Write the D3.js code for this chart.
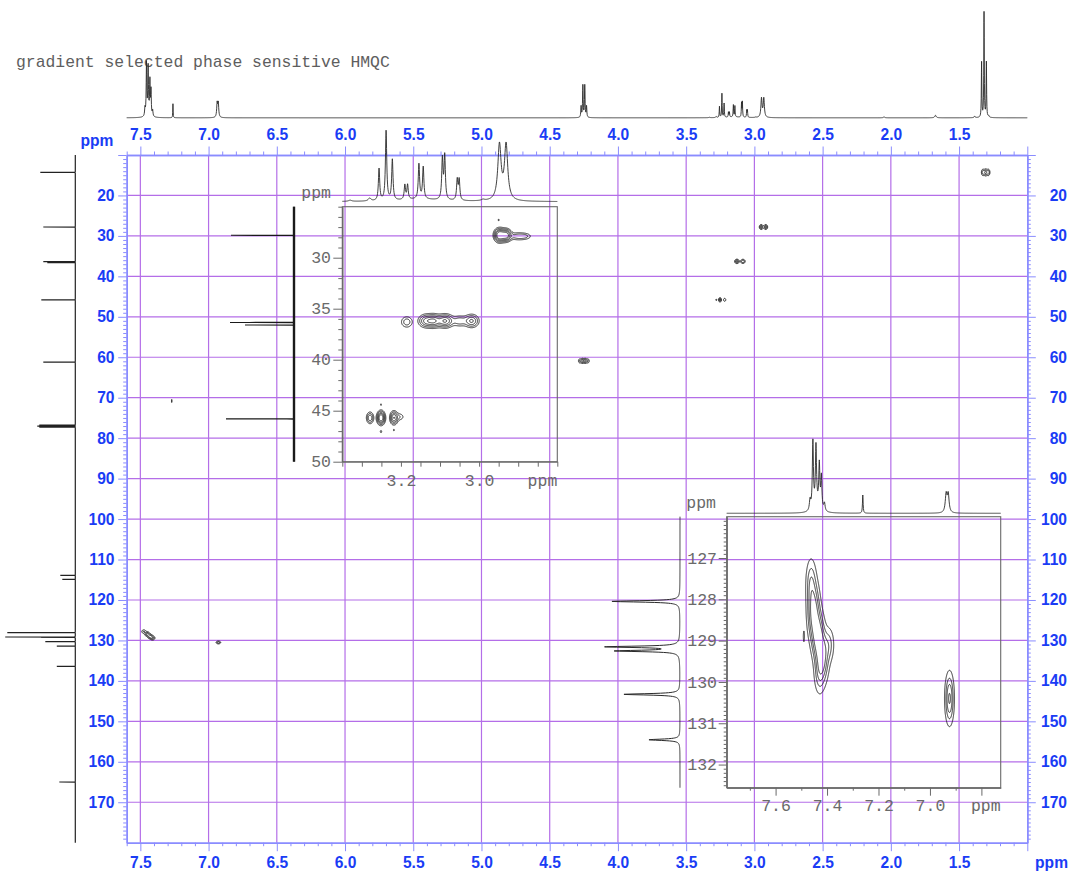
<!DOCTYPE html>
<html>
<head>
<meta charset="utf-8">
<script src="https://cdn.jsdelivr.net/npm/d3@7/dist/d3.min.js"></script>
<style>
  html, body { margin: 0; padding: 0; background: #ffffff; }
  svg { display: block; }
</style>
</head>
<body>
<script>
// ---------------------------------------------------------------
// HMQC spectrum: 1H (F2) against 13C (F1), with two expanded regions
// ---------------------------------------------------------------

const titleText = "gradient selected phase sensitive HMQC";

// main axis ticks (ppm)
const protonMajor = [7.5, 7.0, 6.5, 6.0, 5.5, 5.0, 4.5, 4.0, 3.5, 3.0, 2.5, 2.0, 1.5, 1.0];
const carbonMajor = [10, 20, 30, 40, 50, 60, 70, 80, 90, 100, 110, 120, 130, 140, 150, 160, 170];

// 1H spectrum: line positions (ppm), intensities, Lorentzian half widths (ppm)
const hShift = [7.466, 7.455, 7.443, 7.430, 7.422, 7.410, 7.440,
                7.261, 6.937, 6.929,
                4.270, 4.257, 4.243, 4.230,
                3.330, 3.280, 3.256, 3.238, 3.222, 3.190, 3.183, 3.154, 3.143, 3.150,
                3.094, 3.088, 3.056, 3.051, 2.990, 2.948, 2.931,
                2.050, 1.673, 1.386, 1.335, 1.317, 1.300, 1.283];
const hInt   = [8, 52, 45, 33, 25, 6, 6,
                14, 14, 14,
                11, 32, 32, 11,
                0.4, 1.0, 11, 24, 14, 5, 5, 12, 11, 0.8,
                14, 15, 7, 7, 0.4, 19, 19,
                1, 2.5, 1.5, 55, 105, 55, 1.5];
const hWidth = [0.003, 0.0025, 0.0025, 0.0025, 0.0025, 0.003, 0.012,
                0.0015, 0.004, 0.004,
                0.0025, 0.0025, 0.0025, 0.0025,
                0.005, 0.004, 0.002, 0.002, 0.002, 0.002, 0.002, 0.002, 0.002, 0.06,
                0.002, 0.002, 0.002, 0.002, 0.005, 0.005, 0.005,
                0.005, 0.006, 0.004, 0.002, 0.002, 0.002, 0.004];

// 13C spectrum: line positions (ppm) and intensities for the full
// projection and for the projections of the two expansions
const cShift     = [14.3, 27.8, 36.35, 36.6, 45.8, 61.2, 76.75, 77.0, 77.25,
                    113.9, 114.9, 128.05, 129.15, 129.25, 130.3, 131.4, 136.4, 165.0];
const cIntFull   = [35, 32, 32, 28, 34, 32, 36, 38, 36,
                    15, 13, 68, 70, 34, 30, 18.5, 18.5, 16];
const cIntAliph  = [0, 63, 64, 49, 68, 0, 0, 0, 0,
                    0, 0, 0, 0, 0, 0, 0, 0, 0];
const cIntArom   = [0, 0, 0, 0, 0, 0, 0, 0, 0,
                    0, 0, 68, 73, 63, 56, 31, 0, 0];

// cross peaks of the full 2D map: 1H ppm, 13C ppm, widths (ppm), amplitude
const mpH   = [1.325, 1.305, 1.285,
               2.950, 2.917,
               3.128, 3.084,
               3.279, 3.252, 3.218,
               4.280, 4.260, 4.240, 4.220,
               7.270,
               7.475, 7.450, 7.430, 7.410,
               6.928];
const mpC   = [14.3, 14.3, 14.3,
               27.8, 27.8,
               36.3, 36.3,
               45.8, 45.8, 45.8,
               60.9, 60.9, 60.9, 60.9,
               70.8,
               127.8, 128.4, 129.0, 129.4,
               130.5];
const mpSH  = [0.008, 0.008, 0.008,
               0.009, 0.009,
               0.011, 0.011,
               0.004, 0.007, 0.007,
               0.008, 0.008, 0.008, 0.008,
               0.0015,
               0.012, 0.012, 0.012, 0.012,
               0.012];
const mpSC  = [0.55, 0.55, 0.55,
               0.40, 0.40,
               0.35, 0.35,
               0.25, 0.35, 0.30,
               0.40, 0.40, 0.40, 0.40,
               0.35,
               0.35, 0.35, 0.35, 0.35,
               0.25];
const mpAmp = [0.8, 1.0, 0.8,
               1.0, 1.0,
               1.0, 0.9,
               0.4, 1.0, 0.6,
               0.6, 1.0, 1.0, 0.6,
               0.6,
               0.6, 1.0, 1.0, 0.8,
               0.8];

// cross peaks of the two expansions (higher digital resolution)
const xpH   = [2.948, 2.931, 2.900, 2.880, 2.950,
               3.185, 3.135, 3.115, 3.087, 3.050, 3.019,
               3.279, 3.251, 3.218, 3.203, 3.251, 3.251, 3.218,
               7.462, 7.452, 7.435, 7.418, 7.392, 7.430, 7.490,
               6.924];
const xpC   = [27.8, 27.8, 27.9, 27.9, 26.3,
               36.3, 36.2, 36.2, 36.2, 36.2, 36.2,
               45.7, 45.7, 45.7, 45.6, 44.4, 47.05, 46.9,
               127.6, 128.3, 128.9, 129.4, 129.1, 129.8, 128.9,
               130.4];
const xpSH  = [0.008, 0.008, 0.015, 0.010, 0.002,
               0.010, 0.012, 0.010, 0.012, 0.012, 0.011,
               0.0056, 0.006, 0.006, 0.008, 0.0012, 0.0025, 0.002,
               0.012, 0.014, 0.014, 0.014, 0.012, 0.012, 0.002,
               0.010];
const xpSC  = [0.38, 0.35, 0.25, 0.20, 0.15,
               0.37, 0.38, 0.38, 0.38, 0.35, 0.38,
               0.34, 0.38, 0.38, 0.25, 0.12, 0.15, 0.12,
               0.35, 0.40, 0.35, 0.35, 0.25, 0.30, 0.12,
               0.35];
const xpAmp = [1.0, 0.85, 0.3, 0.15, 0.14,
               0.30, 0.60, 0.60, 0.75, 0.30, 0.55,
               0.50, 1.0, 0.70, 0.20, 0.15, 0.15, 0.14,
               0.45, 0.95, 1.0, 0.9, 0.35, 0.35, 0.2,
               0.8];

// contour levels (fraction of the strongest cross peak)
const levelsFull  = [0.3, 0.6, 0.9];
const levelsAliph = [0.12, 0.22, 0.36, 0.52, 0.72];
const levelsArom  = [0.12, 0.30, 0.50, 0.75];

// axis labels of the expansions
const aliphProtonLabels = [3.2, 3.0];
const aliphCarbonLabels = [30, 35, 40, 45, 50];
const aromProtonLabels  = [7.6, 7.4, 7.2, 7.0];
const aromCarbonLabels  = [127, 128, 129, 130, 131, 132];

// ---------------------------------------------------------------
const BLUE_TEXT = "#1a3cf5";
const AXIS_COL  = "#8a8cff";
const GRID_COL  = "#b46ee8";
const INK       = "#1b1b1b";
const GREY_TEXT = "#5e5e5e";
const INSET_COL = "#6a6a6a";
const SANS = "'Liberation Sans', Arial, Helvetica, sans-serif";
const MONO = "'Liberation Mono', 'Courier New', monospace";

const svg = d3.select("body").append("svg")
  .attr("width", 1075).attr("height", 875)
  .attr("viewBox", "0 0 1075 875");

const F = { x0: 126.7, x1: 1027.3, y0: 155, y1: 842.7 };
const xMain = d3.scaleLinear().domain([7.6, 1.0]).range([F.x0, F.x1]);
const yMain = d3.scaleLinear().domain([10, 180]).range([F.y0, F.y1]);

// expansion frames
const A = { x0: 342.3, x1: 557.3, y0: 206.7, y1: 461.7 };
const xA = d3.scaleLinear().domain([3.35, 2.80]).range([A.x0, A.x1]);
const yA = d3.scaleLinear().domain([25, 50]).range([A.y0, A.y1]);
const B = { x0: 726.7, x1: 1000.7, y0: 516.7, y1: 787.7 };
const xB = d3.scaleLinear().domain([7.79, 6.725]).range([B.x0, B.x1]);
const yB = d3.scaleLinear().domain([126, 132.56]).range([B.y0, B.y1]);

// ---------- helpers ----------
function lorentzSum(shifts, ints, width, ppm) {
  let s = 0;
  for (let i = 0; i < shifts.length; i++) {
    if (!ints[i]) continue;
    const w = Array.isArray(width) ? width[i] : width;
    const d = (ppm - shifts[i]) / w;
    s += ints[i] / (1 + d * d);
  }
  return s;
}

function samplePositions(scale, shifts) {
  const [a, b] = scale.range().slice().sort((p, q) => p - q);
  const pts = d3.range(a, b, 0.25);
  pts.push(b);
  shifts.forEach(s => { const p = scale(s); if (p > a && p < b) pts.push(p); });
  return pts.sort((p, q) => p - q);
}

function protonTrace(xs, baseY, gain) {
  const pts = samplePositions(xs, hShift);
  return d3.line()(pts.map(px =>
    [px, baseY - gain * lorentzSum(hShift, hInt, hWidth, xs.invert(px))]));
}

function carbonTrace(ys, baseX, ints, width) {
  const pts = samplePositions(ys, cShift);
  return d3.line()(pts.map(py =>
    [baseX - lorentzSum(cShift, ints, width, ys.invert(py)), py]));
}

// contour plot of the cross peaks that fall within a panel
function drawCrossPeaks(g, xs, ys, pk, levels, res, strokeW) {
  const [xa, xb] = xs.range(), [ya, yb] = ys.range();
  let boxes = [];
  pk.h.forEach((h, i) => {
    const px = [xs(h + 5 * pk.sh[i]), xs(h - 5 * pk.sh[i])];
    const py = [ys(pk.c[i] - 5 * pk.sc[i]), ys(pk.c[i] + 5 * pk.sc[i])];
    const b = { x0: Math.min(...px), x1: Math.max(...px),
                y0: Math.min(...py), y1: Math.max(...py), ids: [i] };
    if (b.x1 < xa || b.x0 > xb || b.y1 < ya || b.y0 > yb) return;
    boxes.push(b);
  });
  let changed = true;
  while (changed) {
    changed = false;
    outer:
    for (let i = 0; i < boxes.length; i++) {
      for (let j = i + 1; j < boxes.length; j++) {
        const p = boxes[i], q = boxes[j];
        if (p.x0 <= q.x1 && q.x0 <= p.x1 && p.y0 <= q.y1 && q.y0 <= p.y1) {
          boxes[i] = { x0: Math.min(p.x0, q.x0), x1: Math.max(p.x1, q.x1),
                       y0: Math.min(p.y0, q.y0), y1: Math.max(p.y1, q.y1),
                       ids: p.ids.concat(q.ids) };
          boxes.splice(j, 1);
          changed = true;
          break outer;
        }
      }
    }
  }
  boxes.forEach(b => {
    const x0 = b.x0 - 2, y0 = b.y0 - 2;
    const nx = Math.ceil((b.x1 + 2 - x0) / res), ny = Math.ceil((b.y1 + 2 - y0) / res);
    const v = new Float64Array(nx * ny);
    for (let j = 0; j < ny; j++) {
      const c = ys.invert(y0 + (j + 0.5) * res);
      for (let i = 0; i < nx; i++) {
        const h = xs.invert(x0 + (i + 0.5) * res);
        let s = 0;
        for (const k of b.ids) {
          const dh = (h - pk.h[k]) / pk.sh[k], dc = (c - pk.c[k]) / pk.sc[k];
          s += pk.amp[k] * Math.exp(-0.5 * (dh * dh + dc * dc));
        }
        v[i + j * nx] = s;
      }
    }
    const contours = d3.contours().size([nx, ny]).thresholds(levels)(v);
    const proj = d3.geoTransform({
      point(x, y) { this.stream.point(x0 + x * res, y0 + y * res); }
    });
    g.append("g").selectAll("path").data(contours).join("path")
      .attr("d", d3.geoPath(proj))
      .attr("fill", "none")
      .attr("stroke", INK)
      .attr("stroke-width", strokeW)
      .attr("stroke-linejoin", "round");
  });
}

function styleAxis(g, col, w) {
  g.attr("font-family", null).attr("font-size", null);
  g.select(".domain").attr("stroke", col).attr("stroke-width", w);
  g.selectAll(".tick line").attr("stroke", col).attr("stroke-width", 1);
}

// ---------- title ----------
svg.append("text")
  .attr("x", 16).attr("y", 67)
  .attr("font-family", MONO).attr("font-size", 16.4)
  .attr("fill", GREY_TEXT)
  .text(titleText);

// ---------- main grid ----------
const grid = svg.append("g").attr("stroke", GRID_COL).attr("stroke-width", 1.2);
grid.selectAll(".gx").data(protonMajor.filter(v => v < 7.6 && v > 1.0)).join("line")
  .attr("x1", d => xMain(d)).attr("x2", d => xMain(d))
  .attr("y1", F.y0).attr("y2", F.y1);
grid.selectAll(".gy").data(carbonMajor.filter(v => v > 10)).join("line")
  .attr("y1", d => yMain(d)).attr("y2", d => yMain(d))
  .attr("x1", F.x0).attr("x2", F.x1);

// ---------- main axes ----------
const protonMinor = d3.range(76, 9, -1).filter(v => v % 5 !== 0).map(v => v / 10);
const carbonMinor = d3.range(10, 181).filter(v => v % 10 !== 0);
const fmtP = d => (d === 1.0 ? "" : d.toFixed(1));
const fmtC = d => (d === 10 ? "" : String(d));

function mainAxis(maker, scale, pos, minorVals, majorVals, fmt, padding) {
  const gMinor = svg.append("g").attr("transform", pos)
    .call(maker(scale).tickValues(minorVals).tickSize(3.5).tickSizeOuter(0).tickFormat(""));
  styleAxis(gMinor, AXIS_COL, 1.5);
  const gMajor = svg.append("g").attr("transform", pos)
    .call(maker(scale).tickValues(majorVals).tickSize(8.5).tickSizeOuter(0)
      .tickPadding(padding).tickFormat(fmt));
  styleAxis(gMajor, AXIS_COL, 1.5);
  gMajor.selectAll("text")
    .attr("fill", BLUE_TEXT)
    .attr("font-family", SANS)
    .attr("font-weight", "bold")
    .attr("font-size", 15.6);
  return gMajor;
}

mainAxis(d3.axisTop, xMain, `translate(0,${F.y0})`, protonMinor, protonMajor, fmtP, 6.5);
mainAxis(d3.axisBottom, xMain, `translate(0,${F.y1})`, protonMinor, protonMajor, fmtP, 6.2);
mainAxis(d3.axisLeft, yMain, `translate(${F.x0},0)`, carbonMinor, carbonMajor, fmtC, 3.7);
const rightAx = mainAxis(d3.axisRight, yMain, `translate(${F.x1},0)`, carbonMinor, carbonMajor, fmtC, 3);
rightAx.selectAll("text").attr("text-anchor", "end").attr("x", 39.7);

svg.append("text").attr("x", 113.3).attr("y", 146)
  .attr("text-anchor", "end").attr("fill", BLUE_TEXT)
  .attr("font-family", SANS).attr("font-weight", "bold").attr("font-size", 15.6)
  .text("ppm");
svg.append("text").attr("x", 1068).attr("y", 868)
  .attr("text-anchor", "end").attr("fill", BLUE_TEXT)
  .attr("font-family", SANS).attr("font-weight", "bold").attr("font-size", 15.6)
  .text("ppm");

// ---------- clip regions ----------
const defs = svg.append("defs");
[["clipMain", F], ["clipA", A], ["clipB", B]].forEach(([id, r]) => {
  defs.append("clipPath").attr("id", id).append("rect")
    .attr("x", r.x0).attr("y", r.y0)
    .attr("width", r.x1 - r.x0).attr("height", r.y1 - r.y0);
});

// ---------- main projections ----------
svg.append("path")
  .attr("d", protonTrace(xMain, 117.8, 1))
  .attr("fill", "none").attr("stroke", "#2a2a2a").attr("stroke-width", 0.9);

svg.append("path")
  .attr("d", carbonTrace(yMain, 75.3, cIntFull, 0.005))
  .attr("fill", "none").attr("stroke", "#222").attr("stroke-width", 1.2);

// ---------- main contours ----------
drawCrossPeaks(svg.append("g").attr("clip-path", "url(#clipMain)"),
  xMain, yMain, { h: mpH, c: mpC, sh: mpSH, sc: mpSC, amp: mpAmp },
  levelsFull, 0.25, 1.0);

// ---------- expansion panels ----------
const expansionPeaks = { h: xpH, c: xpC, sh: xpSH, sc: xpSC, amp: xpAmp };

function monoText(g, x, y, txt, anchor) {
  g.append("text").attr("x", x).attr("y", y)
    .attr("text-anchor", anchor)
    .attr("font-family", MONO).attr("font-size", 16.5)
    .attr("fill", INSET_COL)
    .text(txt);
}

function styleInsetAxis(g) {
  styleAxis(g, INSET_COL, 1);
  g.selectAll("text").attr("font-family", MONO).attr("font-size", 16.5).attr("fill", INSET_COL);
}

// --- aliphatic expansion (A) ---
const gA = svg.append("g");
gA.append("rect")
  .attr("x", A.x0).attr("y", A.y0).attr("width", A.x1 - A.x0).attr("height", A.y1 - A.y0)
  .attr("fill", "none").attr("stroke", INSET_COL).attr("stroke-width", 1.1);

const aTicksX = d3.range(335, 279, -5).map(v => v / 100);
styleInsetAxis(gA.append("g").attr("transform", `translate(0,${A.y1})`)
  .call(d3.axisBottom(xA).tickValues(aTicksX).tickSize(5).tickSizeOuter(0).tickFormat("")));
const aLab = gA.append("g").attr("transform", `translate(0,${A.y1})`)
  .call(d3.axisBottom(xA).tickValues(aliphProtonLabels).tickSize(0).tickSizeOuter(0)
    .tickPadding(13).tickFormat(d3.format(".1f")));
styleInsetAxis(aLab);
aLab.select(".domain").remove();
monoText(gA, A.x1, 486, "ppm", "end");

const aTicksY = d3.range(25, 51);
styleInsetAxis(gA.append("g").attr("transform", `translate(${A.x0},0)`)
  .call(d3.axisLeft(yA).tickValues(aTicksY.filter(v => v % 5 !== 0 || v === 25))
    .tickSize(4).tickSizeOuter(0).tickFormat("")));
styleInsetAxis(gA.append("g").attr("transform", `translate(${A.x0},0)`)
  .call(d3.axisLeft(yA).tickValues(aliphCarbonLabels).tickSize(9).tickSizeOuter(0)
    .tickPadding(2.3).tickFormat(d3.format("d"))));
monoText(gA, 331, 198, "ppm", "end");

gA.append("path")
  .attr("d", protonTrace(xA, 201.7, 2.9))
  .attr("fill", "none").attr("stroke", "#2a2a2a").attr("stroke-width", 0.9);
gA.append("path")
  .attr("d", carbonTrace(yA, 294, cIntAliph, 0.003))
  .attr("fill", "none").attr("stroke", "#1a1a1a").attr("stroke-width", 1.1);
// noisy baseline of the carbon projection
gA.append("line")
  .attr("x1", 294).attr("x2", 294).attr("y1", A.y0).attr("y2", A.y1)
  .attr("stroke", "#1a1a1a").attr("stroke-width", 2.4);

drawCrossPeaks(gA.append("g").attr("clip-path", "url(#clipA)"),
  xA, yA, expansionPeaks, levelsAliph, 0.33, 0.9);

// --- aromatic expansion (B) ---
const gB = svg.append("g");
gB.append("rect")
  .attr("x", B.x0).attr("y", B.y0).attr("width", B.x1 - B.x0).attr("height", B.y1 - B.y0)
  .attr("fill", "none").attr("stroke", INSET_COL).attr("stroke-width", 1.1);

const bMajorX = [7.6, 7.4, 7.2, 7.0, 6.8];
const bMinorX = [7.7, 7.5, 7.3, 7.1, 6.9];
styleInsetAxis(gB.append("g").attr("transform", `translate(0,${B.y1})`)
  .call(d3.axisBottom(xB).tickValues(bMinorX).tickSize(3).tickSizeOuter(0).tickFormat("")));
styleInsetAxis(gB.append("g").attr("transform", `translate(0,${B.y1})`)
  .call(d3.axisBottom(xB).tickValues(bMajorX).tickSize(8).tickSizeOuter(0).tickFormat("")));
const bLab = gB.append("g").attr("transform", `translate(0,${B.y1})`)
  .call(d3.axisBottom(xB).tickValues(aromProtonLabels).tickSize(0).tickSizeOuter(0)
    .tickPadding(11.6).tickFormat(d3.format(".1f")));
styleInsetAxis(bLab);
bLab.select(".domain").remove();
monoText(gB, B.x1, 811, "ppm", "end");

const bMinorY = d3.range(1260, 1326).filter(v => v % 10 !== 0).map(v => v / 10);
styleInsetAxis(gB.append("g").attr("transform", `translate(${B.x0},0)`)
  .call(d3.axisLeft(yB).tickValues(bMinorY).tickSize(3).tickSizeOuter(0).tickFormat("")));
styleInsetAxis(gB.append("g").attr("transform", `translate(${B.x0},0)`)
  .call(d3.axisLeft(yB).tickValues(aromCarbonLabels).tickSize(8).tickSizeOuter(0)
    .tickPadding(1.7).tickFormat(d3.format("d"))));
monoText(gB, 716, 508, "ppm", "end");

gB.append("path")
  .attr("d", protonTrace(xB, 513.3, 1.3))
  .attr("fill", "none").attr("stroke", "#2a2a2a").attr("stroke-width", 0.9);
gB.append("path")
  .attr("d", carbonTrace(yB, 680, cIntArom, 0.02))
  .attr("fill", "none").attr("stroke", "#2a2a2a").attr("stroke-width", 1);

drawCrossPeaks(gB.append("g").attr("clip-path", "url(#clipB)"),
  xB, yB, expansionPeaks, levelsArom, 0.5, 0.9);
</script>
</body>
</html>
